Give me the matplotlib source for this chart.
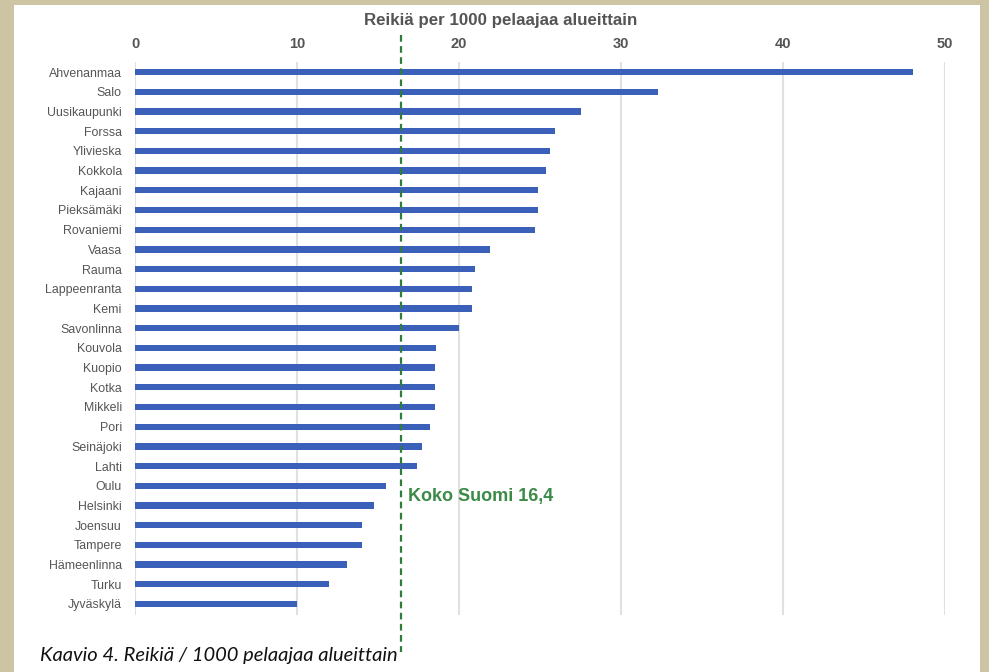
import numpy as np
import matplotlib.pyplot as plt
from matplotlib import font_manager as fm
from matplotlib.patches import Rectangle

# Liberation Sans Narrow gets picked for "Liberation Sans" -> drop it
fm.fontManager.ttflist = [f for f in fm.fontManager.ttflist if "Narrow" not in f.fname]
plt.rcParams['font.family'] = ['Liberation Sans', 'DejaVu Sans']

# Reikiä per 1000 pelaajaa alueittain
alueet = ["Ahvenanmaa", "Salo", "Uusikaupunki", "Forssa", "Ylivieska", "Kokkola",
          "Kajaani", "Pieksämäki", "Rovaniemi", "Vaasa", "Rauma", "Lappeenranta",
          "Kemi", "Savonlinna", "Kouvola", "Kuopio", "Kotka", "Mikkeli", "Pori",
          "Seinäjoki", "Lahti", "Oulu", "Helsinki", "Joensuu", "Tampere",
          "Hämeenlinna", "Turku", "Jyväskylä"]
reikia = [48.0, 32.3, 27.5, 25.9, 25.6, 25.4,
          24.9, 24.9, 24.7, 21.9, 21.0, 20.8,
          20.8, 20.0, 18.6, 18.5, 18.5, 18.5, 18.2,
          17.7, 17.4, 15.5, 14.75, 14.0, 14.0,
          13.1, 12.0, 10.0]
koko_suomi = 16.4
xticks = [0, 10, 20, 30, 40, 50]

W, H = 989, 672
fig = plt.figure(figsize=(W / 100, H / 100), dpi=100)
fig.patch.set_facecolor("#cdc4a4")
fig.patches.append(Rectangle((14 / W, 0), (980 - 14) / W, (H - 5) / H,
                             transform=fig.transFigure, facecolor="white",
                             edgecolor="none", zorder=-1))

# axes: x 0 -> 135px, 50 -> 945px ; y from 62px to 615px
ax = fig.add_axes([135 / W, (H - 615) / H, 810 / W, 553 / H])
ax.set_zorder(2)
ax.set_facecolor("none")

y = np.arange(len(alueet))
ax.barh(y, reikia, height=0.32, color="#3a60b9", zorder=3)
ax.set_xlim(0, 50)
ax.set_ylim(27.56, -0.51)
ax.set_yticks(y)
ax.set_yticklabels(alueet, fontsize=8.9, color="#555555")
ax.set_xticks(xticks)
ax.set_xticklabels([str(t) for t in xticks], fontsize=10.5, fontweight="bold",
                   color="#555555")
ax.xaxis.tick_top()
ax.tick_params(axis="both", length=0)
ax.tick_params(axis="x", pad=8)
ax.tick_params(axis="y", pad=9.5)
for s in ax.spines.values():
    s.set_visible(False)
ax.grid(axis="x", color="#e0e0e0", linewidth=1.5, zorder=1)

# koko Suomi keskiarvo
ax.plot([koko_suomi, koko_suomi], [-1.88, 29.44], color="#2e7d3a",
        linestyle=(0, (3, 2)), linewidth=1.6, clip_on=False, zorder=4)
ax.text(koko_suomi + 0.45, 21.55, "Koko Suomi 16,4", color="#3b8a47",
        fontsize=13, fontweight="bold", va="center", ha="left")

fig.text(501 / W, 1 - 20.5 / H, "Reikiä per 1000 pelaajaa alueittain",
         ha="center", va="center", fontsize=12.2, fontweight="bold",
         color="#555555")
fig.text(40 / W, 1 - 655 / H, "Kaavio 4. Reikiä / 1000 pelaajaa alueittain",
         ha="left", va="center", fontsize=14.5, style="italic", family="Lato",
         color="#111111")

fig.savefig("out.png", dpi=100, facecolor=fig.get_facecolor())
